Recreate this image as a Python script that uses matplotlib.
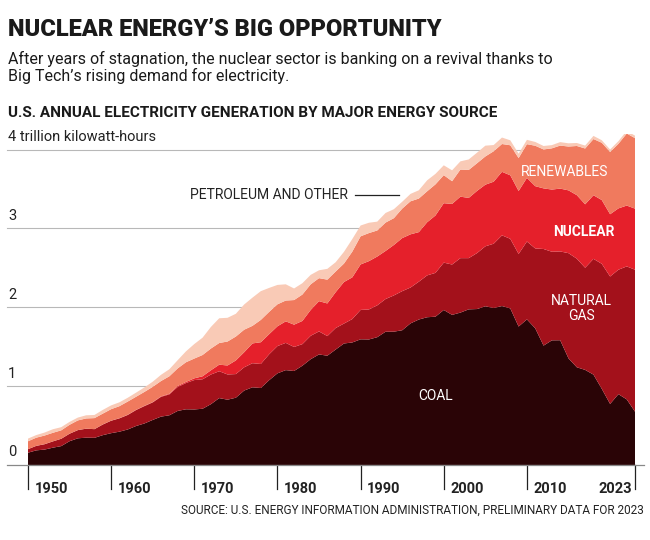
import numpy as np
import matplotlib
matplotlib.use('Agg')
import matplotlib.pyplot as plt
import matplotlib.transforms as mtransforms

plt.rcParams['font.family'] = ['Roboto', 'DejaVu Sans']

years = list(range(1950, 2024))

# billion kWh
coal = [155, 185, 195, 219, 239, 301, 338, 346, 344, 378,
        403, 422, 450, 494, 526, 571, 613, 630, 685, 706,
        704, 713, 771, 848, 828, 853, 944, 985, 976, 1075,
        1162, 1203, 1192, 1259, 1342, 1402, 1386, 1464, 1541, 1554,
        1594, 1592, 1621, 1690, 1691, 1709, 1796, 1845, 1874, 1881,
        1966, 1904, 1933, 1974, 1978, 2013, 1991, 2016, 1986, 1756,
        1847, 1733, 1514, 1581, 1582, 1352, 1239, 1206, 1146, 966,
        774, 898, 832, 675]
natural_gas = [45, 57, 68, 80, 93, 95, 104, 114, 110, 135,
               158, 169, 184, 202, 220, 222, 251, 265, 304, 333,
               373, 374, 376, 341, 320, 300, 295, 306, 305, 329,
               346, 346, 305, 274, 297, 292, 249, 273, 253, 297,
               373, 381, 404, 415, 460, 496, 455, 480, 531, 556,
               601, 639, 691, 650, 710, 761, 816, 897, 883, 921,
               988, 1014, 1226, 1124, 1127, 1335, 1378, 1296, 1469, 1586,
               1617, 1579, 1687, 1802]
nuclear = [0, 0, 0, 0, 0, 0, 0, 0, 0.2, 0.2,
           0.5, 1.7, 2.3, 3.2, 3.3, 3.7, 5.5, 7.7, 12.5, 13.9,
           21.8, 38, 54, 83, 114, 173, 191, 251, 276, 255,
           251, 273, 283, 294, 328, 384, 414, 455, 527, 529,
           577, 613, 619, 610, 640, 673, 675, 629, 674, 728,
           754, 769, 780, 764, 789, 782, 787, 806, 806, 799,
           807, 790, 769, 789, 797, 797, 806, 805, 807, 809,
           790, 778, 772, 775]
renewables = [100, 104, 110, 109, 107, 113, 123, 130, 140, 138,
              146, 153, 168, 166, 177, 194, 195, 222, 223, 250,
              251, 270, 276, 275, 304, 303, 286, 223, 283, 283,
              279, 264, 312, 335, 325, 292, 302, 262, 234, 326,
              357, 356, 331, 360, 340, 374, 419, 426, 393, 395,
              356, 288, 344, 355, 351, 358, 386, 353, 381, 418,
              428, 513, 494, 523, 546, 556, 624, 708, 713, 727,
              790, 819, 914, 894]
petroleum_other = [34, 33, 38, 45, 40, 37, 36, 40, 40, 47,
                   48, 49, 48, 52, 57, 65, 79, 89, 104, 138,
                   184, 220, 274, 314, 301, 289, 320, 358, 365, 304,
                   246, 206, 147, 144, 120, 100, 137, 118, 149, 160,
                   137, 131, 112, 122, 114, 87, 94, 105, 139, 133,
                   125, 138, 104, 133, 134, 137, 79, 82, 63, 55,
                   55, 48, 44, 41, 44, 41, 38, 37, 40, 32,
                   31, 34, 34, 32]

tick_years = [1950, 1960, 1970, 1980, 1990, 2000, 2010, 2023]
colors = ['#2a0406', '#a3111b', '#e5202b', '#f07a5e', '#f9cab6']

fig = plt.figure(figsize=(6.5, 5.4), dpi=100)
ax = fig.add_axes([0.043, 0.139, 0.934, 0.613])

series = [np.array(s) / 1000 for s in [coal, natural_gas, nuclear, renewables, petroleum_other]]
ax.stackplot(years, *series, colors=colors, linewidth=0, zorder=2)
ax.set_xlim(1950, 2023)
ax.set_ylim(0, 4.2)
ax.axis('off')

# gridlines and y labels
trans = mtransforms.blended_transform_factory(ax.transAxes, ax.transData)
for v in [1, 2, 3, 4]:
    ax.plot([-0.035, 0.995], [v, v], color='#b8b8b8', lw=0.8, transform=trans,
            clip_on=False, zorder=1)
    lab = '4 trillion kilowatt-hours' if v == 4 else str(v)
    ax.text(-0.033, v + 0.07, lab, transform=trans, fontsize=10.5,
            color='#222222', va='bottom', ha='left')
ax.text(-0.033, 0.07, '0', transform=trans, fontsize=10.5, color='#222222',
        va='bottom', ha='left')
ax.plot([-0.035, 1.015], [0, 0], color='#888888', lw=0.9, transform=trans,
        clip_on=False, zorder=3)

# x ticks
for yr in tick_years:
    ax.plot([yr, yr], [0, -0.3], color='#222222', lw=0.9, clip_on=False)
    if yr == 2023:
        ax.text(yr - 0.4, -0.3, str(yr), ha='right', va='center', fontsize=10.5,
                fontweight='bold', color='#222222')
    else:
        ax.text(yr + 0.8, -0.3, str(yr), ha='left', va='center', fontsize=10.5,
                fontweight='bold', color='#222222')

# series labels
ax.text(2014.5, 3.72, 'RENEWABLES', color='white', fontsize=10, ha='center', va='center')
ax.text(2016.8, 2.95, 'NUCLEAR', color='white', fontsize=10, fontweight='bold',
        ha='center', va='center')
ax.text(2016.5, 1.98, 'NATURAL\nGAS', color='white', fontsize=10, ha='center',
        va='center', linespacing=1.1)
ax.text(1999, 0.88, 'COAL', color='white', fontsize=10, ha='center', va='center')
ax.text(1988.5, 3.42, 'PETROLEUM AND OTHER', color='#222222', fontsize=10,
        ha='right', va='center')
ax.plot([1989.3, 1994.6], [3.42, 3.42], color='#222222', lw=0.9)

# titles
fig.text(0.012, 0.945, 'NUCLEAR ENERGY\u2019S BIG OPPORTUNITY', fontsize=17,
         fontweight='heavy', color='#1a1a1a', va='center')
fig.text(0.012, 0.875, 'After years of stagnation, the nuclear sector is banking on a revival thanks to\n'
         'Big Tech\u2019s rising demand for electricity.', fontsize=11.5, color='#1a1a1a',
         va='center', linespacing=1.05)
fig.text(0.012, 0.79, 'U.S. ANNUAL ELECTRICITY GENERATION BY MAJOR ENERGY SOURCE',
         fontsize=11, fontweight='bold', color='#1a1a1a', va='center')
fig.text(0.99, 0.055, 'SOURCE: U.S. ENERGY INFORMATION ADMINISTRATION, PRELIMINARY DATA FOR 2023',
         fontsize=8.5, color='#222222', ha='right', va='center')

fig.savefig('out.png', dpi=100, facecolor='white')
